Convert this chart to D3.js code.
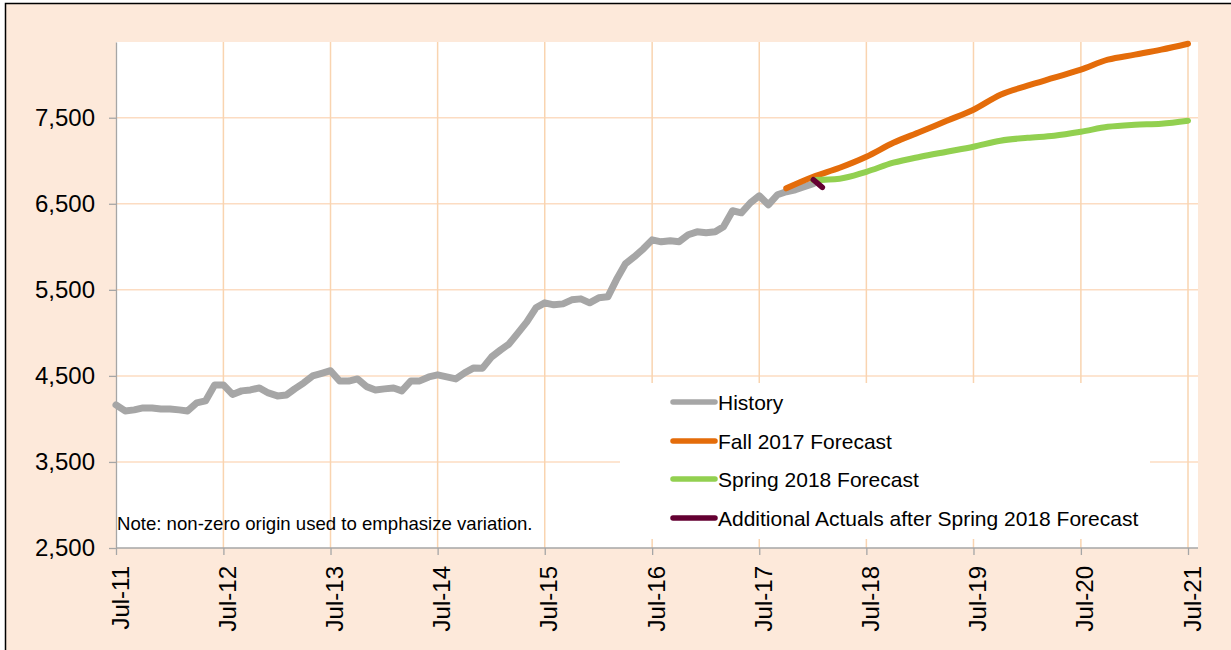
<!DOCTYPE html>
<html>
<head>
<meta charset="utf-8">
<script src="https://cdn.jsdelivr.net/npm/d3@7"></script>
<style>
  html, body { margin: 0; padding: 0; background: #fff; }
  svg { display: block; font-family: "Liberation Sans", Arial, sans-serif; }
</style>
</head>
<body>
<svg id="chart" width="1231" height="650"></svg>
<script>
// ---------- DATA ----------
const yTicks = [2500, 3500, 4500, 5500, 6500, 7500];
const xTickLabels = ["Jul-11","Jul-12","Jul-13","Jul-14","Jul-15","Jul-16","Jul-17","Jul-18","Jul-19","Jul-20","Jul-21"];
const historyStart = "2011-07";
const historyValues = [
  4163, 4093, 4105, 4128, 4128, 4116, 4116, 4105, 4093, 4186, 4209, 4395,
  4395, 4285, 4326, 4337, 4360, 4302, 4267, 4279, 4349, 4419, 4500, 4530,
  4560, 4440, 4440, 4465, 4375, 4337, 4349, 4360, 4326, 4442, 4442, 4488,
  4512, 4488, 4465, 4535, 4593, 4590, 4721, 4802, 4870, 5000, 5128, 5291,
  5349, 5326, 5337, 5384, 5395, 5349, 5407, 5419, 5616, 5802, 5884, 5977,
  6081, 6058, 6070, 6060, 6140, 6174, 6163, 6174, 6233, 6419, 6395, 6512,
  6593, 6488, 6605, 6640, 6663, 6698, 6733
];
const fallDates = ["2017-10","2018-01","2018-04","2018-07","2018-10","2019-01","2019-04","2019-07","2019-10","2020-01","2020-04","2020-07","2020-10","2021-01","2021-04","2021-07"];
const fallValues = [6680, 6814, 6919, 7047, 7209, 7337, 7465, 7593, 7767, 7872, 7965, 8058, 8174, 8233, 8291, 8360];
const springDates = ["2018-01","2018-04","2018-07","2018-10","2019-01","2019-04","2019-07","2019-10","2020-01","2020-04","2020-07","2020-10","2021-01","2021-04","2021-07"];
const springValues = [6775, 6791, 6872, 6977, 7047, 7105, 7163, 7233, 7267, 7291, 7337, 7395, 7419, 7430, 7465];
const actualDates = ["2018-01","2018-02"];
const actualValues = [6780, 6690];
const legendLabels = ["History","Fall 2017 Forecast","Spring 2018 Forecast","Additional Actuals after Spring 2018 Forecast"];
const seriesColors = ["#A6A6A6","#E46C0A","#92D050","#640032"];
const noteText = "Note: non-zero origin used to emphasize variation.";

// ---------- SETUP ----------
const parse = d3.timeParse("%Y-%m");
const svg = d3.select("#chart");
const W = 1231, H = 650;
const plot = {left: 116, right: 1198, top: 42, bottom: 548};

const x = d3.scaleTime()
  .domain([parse("2011-07"), parse("2021-07")])
  .range([116, 1188]);
const y = d3.scaleLinear()
  .domain([2500, 8380])
  .range([plot.bottom, plot.top]);

// background / frame
svg.append("rect").attr("width", W).attr("height", H).attr("fill", "#fff");
svg.append("rect")
  .attr("x", 5.5).attr("y", 3.5).attr("width", W + 20).attr("height", H + 20)
  .attr("fill", "#FDE9DA").attr("stroke", "#000").attr("stroke-width", 1.5);

// plot area
svg.append("rect")
  .attr("x", plot.left).attr("y", plot.top)
  .attr("width", plot.right - plot.left).attr("height", plot.bottom - plot.top)
  .attr("fill", "#fff");

const tickDates = xTickLabels.map((d, i) => parse(String(2011 + i) + "-07"));

// gridlines
svg.append("g").selectAll("line").data(yTicks.slice(1)).join("line")
  .attr("x1", plot.left).attr("x2", plot.right)
  .attr("y1", d => y(d)).attr("y2", d => y(d))
  .attr("stroke", "#FCDCC2").attr("stroke-width", 1.5);
svg.append("g").selectAll("line").data(tickDates.slice(1)).join("line")
  .attr("x1", d => x(d)).attr("x2", d => x(d))
  .attr("y1", plot.top).attr("y2", plot.bottom)
  .attr("stroke", "#F9D4B0").attr("stroke-width", 1.5);

// legend box
svg.append("rect")
  .attr("x", 620).attr("y", 383).attr("width", 530).attr("height", 156)
  .attr("fill", "#fff");

// axes
const yAxis = d3.axisLeft(y).tickValues(yTicks).tickFormat(d3.format(","))
  .tickSize(7).tickSizeOuter(0).tickPadding(14);
const gy = svg.append("g").attr("transform", `translate(${plot.left},0)`).call(yAxis);
gy.attr("font-size", 24).attr("font-family", "'Liberation Sans', Arial, sans-serif");
gy.select(".domain").attr("stroke", "#A6A6A6").attr("stroke-width", 1.3);
gy.selectAll(".tick line").attr("stroke", "#A6A6A6").attr("stroke-width", 1.3);
gy.selectAll(".tick text").attr("font-size", 24).attr("fill", "#000");

const xAxis = d3.axisBottom(x).tickValues(tickDates)
  .tickFormat((d, i) => xTickLabels[i]).tickSize(7).tickSizeOuter(0);
const gx = svg.append("g").attr("transform", `translate(0,${plot.bottom})`).call(xAxis);
gx.attr("font-size", 24).attr("font-family", "'Liberation Sans', Arial, sans-serif");
gx.select(".domain").remove();
gx.append("line").attr("x1", plot.left).attr("x2", plot.right).attr("y1", 0).attr("y2", 0)
  .attr("stroke", "#A6A6A6").attr("stroke-width", 1.3);
gx.selectAll(".tick line").attr("stroke", "#A6A6A6").attr("stroke-width", 1.3);
gx.selectAll(".tick text")
  .attr("font-size", 24).attr("fill", "#000")
  .attr("text-anchor", "end")
  .attr("transform", "translate(12,18) rotate(-90)")
  .attr("x", 0).attr("y", 0).attr("dy", 0);

// lines
const line = d3.line().x(d => x(d.date)).y(d => y(d.v));
const smooth = d3.line().x(d => x(d.date)).y(d => y(d.v)).curve(d3.curveMonotoneX);

const historyData = historyValues.map((v, i) => ({date: d3.timeMonth.offset(parse(historyStart), i), v}));
const fallData = fallDates.map((d, i) => ({date: parse(d), v: fallValues[i]}));
const springData = springDates.map((d, i) => ({date: parse(d), v: springValues[i]}));
const actualData = actualDates.map((d, i) => ({date: parse(d), v: actualValues[i]}));

function drawLine(data, gen, color, width) {
  svg.append("path").datum(data).attr("d", gen)
    .attr("fill", "none").attr("stroke", color).attr("stroke-width", width)
    .attr("stroke-linejoin", "round").attr("stroke-linecap", "round");
}
drawLine(historyData, line, seriesColors[0], 7);
drawLine(fallData, smooth, seriesColors[1], 6);
drawLine(springData, smooth, seriesColors[2], 6);
drawLine(actualData, line, seriesColors[3], 5.5);

// legend
const legendRowsY = [402, 441, 479, 518];
const lg = svg.append("g");
legendLabels.forEach((lab, i) => {
  lg.append("line").attr("x1", 673).attr("x2", 715)
    .attr("y1", legendRowsY[i]).attr("y2", legendRowsY[i])
    .attr("stroke", seriesColors[i]).attr("stroke-width", 5.5).attr("stroke-linecap", "round");
  lg.append("text").attr("x", 718).attr("y", legendRowsY[i] + 7.5)
    .attr("font-size", 21).attr("fill", "#000").text(lab);
});

// note
svg.append("text").attr("x", 117).attr("y", 530)
  .attr("font-size", 18.6).attr("fill", "#000").text(noteText);
</script>
</body>
</html>
